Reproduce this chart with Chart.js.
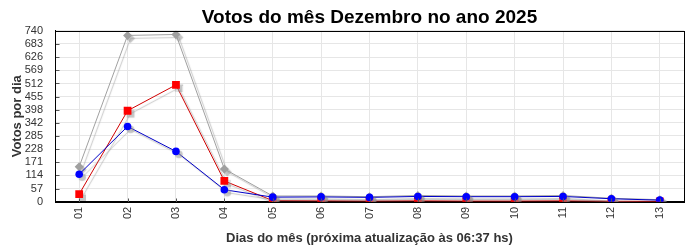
<!DOCTYPE html>
<html>
<head>
<meta charset="utf-8">
<script src="https://cdn.jsdelivr.net/npm/chart.js"></script>
<style>
  body { margin: 0; background: #fff; }
  #box { width: 700px; height: 250px; }
</style>
</head>
<body>
<div id="box"><canvas id="myChart" width="700" height="250"></canvas></div>
<script>
// dias do mês
const dias = ['01','02','03','04','05','06','07','08','09','10','11','12','13']
// votos por dia (total, vermelho, azul)
const total = [152, 720, 724, 142, 25, 25, 22, 27, 25, 25, 27, 15, 9]
const vermelho = [33, 394, 506, 90, 5, 4, 3, 4, 3, 3, 4, 2, 2]
const azul = [119, 326, 218, 52, 20, 21, 19, 23, 22, 22, 23, 13, 7]
// rótulos do eixo y
const ticksY = [0, 57, 114, 171, 228, 285, 342, 398, 455, 512, 569, 626, 683, 740]
const tituloX = 'Dias do mês (próxima atualização às 06:37 hs)'

Chart.defaults.font.family = '"Liberation Sans", Arial, sans-serif'
Chart.defaults.color = '#333'

// sombra cinza atrás das linhas
const sombra = {
  id: 'sombra',
  beforeDatasetDraw(chart) {
    const c = chart.ctx
    c.save()
    c.shadowColor = 'rgba(150,150,150,0.55)'
    c.shadowOffsetX = 3
    c.shadowOffsetY = 3
    c.shadowBlur = 1
  },
  afterDatasetDraw(chart) {
    chart.ctx.restore()
  }
}

// moldura, marcas internas e titulos centrados na area do grafico
const moldura = {
  id: 'moldura',
  afterLayout(chart) {
    if (chart.titleBlock) {
      chart.titleBlock.left = chart.chartArea.left
      chart.titleBlock.right = chart.chartArea.right
    }
  },
  afterDatasetsDraw(chart) {
    const a = chart.chartArea
    const c = chart.ctx
    const l = Math.round(a.left) + 0.5
    const b = Math.round(a.bottom) + 0.5
    c.save()
    c.strokeStyle = '#555'
    c.lineWidth = 1
    c.beginPath()
    chart.scales.y.ticks.forEach(t => {
      const y = Math.round(chart.scales.y.getPixelForValue(t.value)) + 0.5
      c.moveTo(l, y); c.lineTo(l + 4, y)
    })
    dias.forEach((d, i) => {
      const x = Math.round(chart.scales.x.getPixelForValue(i)) + 0.5
      c.moveTo(x, b); c.lineTo(x, b - 4)
    })
    c.stroke()
    c.strokeStyle = '#000'
    c.strokeRect(l, Math.round(a.top) + 0.5, Math.round(a.right - a.left), Math.round(a.bottom - a.top))
    c.fillStyle = '#333'
    c.font = 'bold 13px "Liberation Sans", Arial, sans-serif'
    c.textAlign = 'center'
    c.textBaseline = 'middle'
    c.fillText(tituloX, (a.left + a.right) / 2, 238)
    c.restore()
  }
}

const ctx = document.getElementById('myChart')
const mychart = new Chart(ctx, {
  type: 'line',
  data: {
    labels: dias,
    datasets: [
      {
        label: 'total',
        data: total,
        borderColor: '#a0a0a0',
        backgroundColor: '#a0a0a0',
        borderWidth: 1,
        pointStyle: 'rectRot',
        pointRadius: 4.5,
        pointBorderWidth: 0,
        order: 3
      },
      {
        label: 'vermelho',
        data: vermelho,
        borderColor: '#d00000',
        backgroundColor: '#ff0000',
        borderWidth: 1,
        pointStyle: 'rect',
        pointRadius: 5.5,
        pointBorderWidth: 0,
        order: 2
      },
      {
        label: 'azul',
        data: azul,
        borderColor: '#0000c8',
        backgroundColor: '#0000ff',
        borderWidth: 1,
        pointStyle: 'circle',
        pointRadius: 3.8,
        pointBorderWidth: 0,
        order: 1
      }
    ]
  },
  options: {
    responsive: false,
    animation: false,
    layout: { padding: { left: 10, right: 16, top: 2, bottom: 26 } },
    plugins: {
      legend: { display: false },
      tooltip: { enabled: false },
      title: {
        display: true,
        text: 'Votos do mês Dezembro no ano 2025',
        color: '#000',
        font: { size: 19, weight: 'bold' },
        padding: { top: 4, bottom: 2 }
      }
    },
    scales: {
      x: {
        offset: true,
        grid: { color: '#e6e6e6', offset: false, drawTicks: false },
        border: { color: '#000' },
        ticks: { minRotation: 90, maxRotation: 90, font: { size: 11 }, color: '#333', padding: 5 }
      },
      y: {
        min: 0,
        max: 740,
        grid: { color: '#e6e6e6', drawTicks: false },
        border: { color: '#000' },
        afterBuildTicks(axis) {
          axis.ticks = ticksY.map(v => ({ value: v }))
        },
        afterFit(axis) {
          axis.width = 45
        },
        ticks: { autoSkip: false, font: { size: 11 }, color: '#333', padding: 12 },
        title: {
          display: true,
          text: 'Votos por dia',
          font: { size: 13, weight: 'bold' },
          color: '#333',
          padding: { top: 0, bottom: 3 }
        }
      }
    }
  },
  plugins: [sombra, moldura]
})
</script>
</body>
</html>
